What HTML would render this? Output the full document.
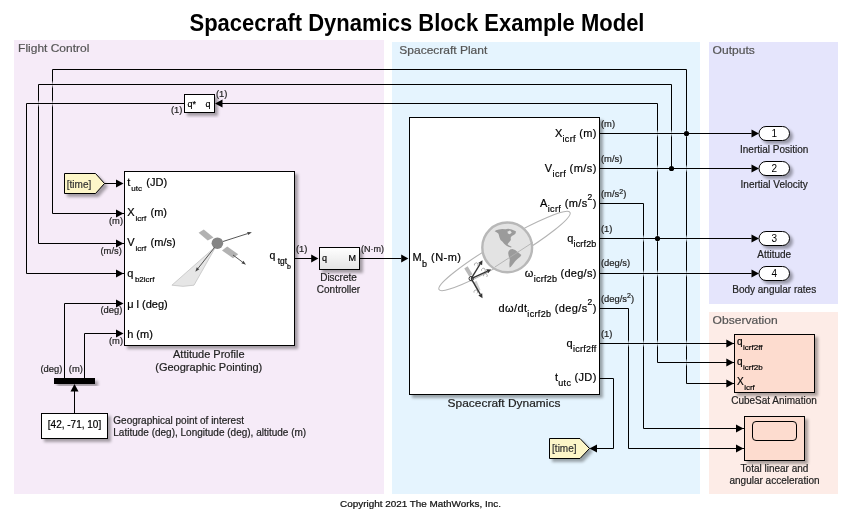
<!DOCTYPE html><html><head><meta charset="utf-8"><style>html,body{margin:0;padding:0;background:#fff;overflow:hidden;}svg{display:block;font-family:"Liberation Sans",sans-serif;} text{stroke-width:0.2px;}</style></head><body>
<div style="will-change:transform">
<svg width="853" height="515" viewBox="0 0 853 515">
<defs><filter id="sh" x="-20%" y="-20%" width="150%" height="150%"><feGaussianBlur in="SourceAlpha" stdDeviation="1.7"/><feOffset dx="2.6" dy="2.6" result="b"/><feComponentTransfer><feFuncA type="linear" slope="0.34"/></feComponentTransfer><feMerge><feMergeNode/><feMergeNode in="SourceGraphic"/></feMerge></filter><linearGradient id="gr" x1="0" y1="0" x2="0" y2="1"><stop offset="0" stop-color="#fff"/><stop offset="1" stop-color="#e4e4e4"/></linearGradient><linearGradient id="gpb" x1="0" y1="0" x2="0" y2="1"><stop offset="0" stop-color="#e5f4fe" stop-opacity="0"/><stop offset="0.5" stop-color="#e5f4fe" stop-opacity="1"/><stop offset="1" stop-color="#e5f4fe" stop-opacity="0"/></linearGradient><linearGradient id="gpp" x1="0" y1="0" x2="0" y2="1"><stop offset="0" stop-color="#f6ebf8" stop-opacity="0"/><stop offset="0.5" stop-color="#f6ebf8" stop-opacity="1"/><stop offset="1" stop-color="#f6ebf8" stop-opacity="0"/></linearGradient><clipPath id="gc"><circle cx="507.2" cy="247.4" r="26"/></clipPath></defs>
<rect x="14" y="40" width="370" height="454" fill="#f6ebf8"/>
<rect x="392" y="42" width="308" height="452" fill="#e5f4fe"/>
<rect x="709" y="42" width="129" height="262" fill="#e5e5fc"/>
<rect x="709" y="312" width="129" height="182" fill="#fdece7"/>
<text x="18.1" y="52.0" font-size="11" fill="#555" stroke="#555" textLength="71.2" lengthAdjust="spacingAndGlyphs" >Flight Control</text>
<text x="399.3" y="53.6" font-size="11" fill="#555" stroke="#555" textLength="88.0" lengthAdjust="spacingAndGlyphs" >Spacecraft Plant</text>
<text x="712.6" y="53.6" font-size="11" fill="#555" stroke="#555" textLength="42.2" lengthAdjust="spacingAndGlyphs" >Outputs</text>
<text x="712.6" y="323.6" font-size="11" fill="#555" stroke="#555" textLength="65.0" lengthAdjust="spacingAndGlyphs" >Observation</text>
<text x="189.5" y="30.8" font-size="23.4" stroke="#000" font-weight="bold" textLength="455" lengthAdjust="spacingAndGlyphs" style="stroke-width:0">Spacecraft Dynamics Block Example Model</text>
<text x="340" y="506.8" font-size="8.5" fill="#111" stroke="#111" textLength="161" lengthAdjust="spacingAndGlyphs" >Copyright 2021 The MathWorks, Inc.</text>
<path d="M600 133.5 L751.6 133.5" fill="none" stroke="#000" stroke-width="1"/>
<path d="M124 213.5 L52.5 213.5 L52.5 69.5 L686.5 69.5 L686.5 383.5 L734 383.5" fill="none" stroke="#000" stroke-width="1"/>
<path d="M600 168.5 L751.6 168.5" fill="none" stroke="#000" stroke-width="1"/>
<path d="M124 243.5 L38.5 243.5 L38.5 84.5 L671.5 84.5 L671.5 168.5" fill="none" stroke="#000" stroke-width="1"/>
<path d="M600 238.5 L751.6 238.5" fill="none" stroke="#000" stroke-width="1"/>
<path d="M222 103.5 L657.5 103.5 L657.5 362.5 L734 362.5" fill="none" stroke="#000" stroke-width="1"/>
<path d="M184.5 103.5 L26.5 103.5 L26.5 273.5 L124 273.5" fill="none" stroke="#000" stroke-width="1"/>
<path d="M600 273.5 L751.6 273.5" fill="none" stroke="#000" stroke-width="1"/>
<path d="M600 203.5 L643.5 203.5 L643.5 428.5 L744 428.5" fill="none" stroke="#000" stroke-width="1"/>
<path d="M600 308.5 L628.5 308.5 L628.5 448.5 L744 448.5" fill="none" stroke="#000" stroke-width="1"/>
<path d="M600 343.5 L734 343.5" fill="none" stroke="#000" stroke-width="1"/>
<path d="M600 378.5 L613.5 378.5 L613.5 448.5 L597 448.5" fill="none" stroke="#000" stroke-width="1"/>
<path d="M104 183.5 L117 183.5" fill="none" stroke="#000" stroke-width="1"/>
<path d="M74.5 413.5 L74.5 390" fill="none" stroke="#000" stroke-width="1"/>
<path d="M64.5 378 L64.5 303.5 L117 303.5" fill="none" stroke="#000" stroke-width="1"/>
<path d="M84.5 378 L84.5 333.5 L117 333.5" fill="none" stroke="#000" stroke-width="1"/>
<path d="M294.5 258.5 L312 258.5" fill="none" stroke="#000" stroke-width="1"/>
<path d="M359.5 258.5 L401 258.5" fill="none" stroke="#000" stroke-width="1"/>
<rect x="51.6" y="80.5" width="1.8" height="8" fill="url(#gpp)"/>
<path d="M49.5 84.5 L55.5 84.5" stroke="#000" stroke-width="1"/>
<rect x="51.6" y="99.5" width="1.8" height="8" fill="url(#gpp)"/>
<path d="M49.5 103.5 L55.5 103.5" stroke="#000" stroke-width="1"/>
<rect x="685.6" y="129.5" width="1.8" height="8" fill="url(#gpb)"/>
<path d="M683.5 133.5 L689.5 133.5" stroke="#000" stroke-width="1"/>
<rect x="685.6" y="164.5" width="1.8" height="8" fill="url(#gpb)"/>
<path d="M683.5 168.5 L689.5 168.5" stroke="#000" stroke-width="1"/>
<rect x="685.6" y="234.5" width="1.8" height="8" fill="url(#gpb)"/>
<path d="M683.5 238.5 L689.5 238.5" stroke="#000" stroke-width="1"/>
<rect x="685.6" y="358.5" width="1.8" height="8" fill="url(#gpb)"/>
<path d="M683.5 362.5 L689.5 362.5" stroke="#000" stroke-width="1"/>
<rect x="685.6" y="269.5" width="1.8" height="8" fill="url(#gpb)"/>
<path d="M683.5 273.5 L689.5 273.5" stroke="#000" stroke-width="1"/>
<rect x="685.6" y="339.5" width="1.8" height="8" fill="url(#gpb)"/>
<path d="M683.5 343.5 L689.5 343.5" stroke="#000" stroke-width="1"/>
<rect x="37.6" y="99.5" width="1.8" height="8" fill="url(#gpp)"/>
<path d="M35.5 103.5 L41.5 103.5" stroke="#000" stroke-width="1"/>
<rect x="670.6" y="129.5" width="1.8" height="8" fill="url(#gpb)"/>
<path d="M668.5 133.5 L674.5 133.5" stroke="#000" stroke-width="1"/>
<rect x="656.6" y="129.5" width="1.8" height="8" fill="url(#gpb)"/>
<path d="M654.5 133.5 L660.5 133.5" stroke="#000" stroke-width="1"/>
<rect x="656.6" y="164.5" width="1.8" height="8" fill="url(#gpb)"/>
<path d="M654.5 168.5 L660.5 168.5" stroke="#000" stroke-width="1"/>
<rect x="656.6" y="234.5" width="1.8" height="8" fill="url(#gpb)"/>
<path d="M654.5 238.5 L660.5 238.5" stroke="#000" stroke-width="1"/>
<rect x="656.6" y="269.5" width="1.8" height="8" fill="url(#gpb)"/>
<path d="M654.5 273.5 L660.5 273.5" stroke="#000" stroke-width="1"/>
<rect x="656.6" y="339.5" width="1.8" height="8" fill="url(#gpb)"/>
<path d="M654.5 343.5 L660.5 343.5" stroke="#000" stroke-width="1"/>
<rect x="642.6" y="234.5" width="1.8" height="8" fill="url(#gpb)"/>
<path d="M640.5 238.5 L646.5 238.5" stroke="#000" stroke-width="1"/>
<rect x="642.6" y="269.5" width="1.8" height="8" fill="url(#gpb)"/>
<path d="M640.5 273.5 L646.5 273.5" stroke="#000" stroke-width="1"/>
<rect x="642.6" y="339.5" width="1.8" height="8" fill="url(#gpb)"/>
<path d="M640.5 343.5 L646.5 343.5" stroke="#000" stroke-width="1"/>
<rect x="627.6" y="339.5" width="1.8" height="8" fill="url(#gpb)"/>
<path d="M625.5 343.5 L631.5 343.5" stroke="#000" stroke-width="1"/>
<path d="M123.5 183.5 L116.0 179.5 L116.0 187.5 Z" fill="#000"/>
<path d="M123.5 213.5 L116.0 209.5 L116.0 217.5 Z" fill="#000"/>
<path d="M123.5 243.5 L116.0 239.5 L116.0 247.5 Z" fill="#000"/>
<path d="M123.5 273.5 L116.0 269.5 L116.0 277.5 Z" fill="#000"/>
<path d="M123.5 303.5 L116.0 299.5 L116.0 307.5 Z" fill="#000"/>
<path d="M123.5 333.5 L116.0 329.5 L116.0 337.5 Z" fill="#000"/>
<path d="M318.4 258.5 L311.2 254.6 L311.2 262.4 Z" fill="#000"/>
<path d="M408.4 258.5 L401.2 254.6 L401.2 262.4 Z" fill="#000"/>
<path d="M759 133.5 L751.5 129.5 L751.5 137.5 Z" fill="#000"/>
<path d="M759 168.5 L751.5 164.5 L751.5 172.5 Z" fill="#000"/>
<path d="M759 238.5 L751.5 234.5 L751.5 242.5 Z" fill="#000"/>
<path d="M759 273.5 L751.5 269.5 L751.5 277.5 Z" fill="#000"/>
<path d="M215 103.5 L222.5 99.5 L222.5 107.5 Z" fill="#000"/>
<path d="M733.8 343.5 L726.3 339.5 L726.3 347.5 Z" fill="#000"/>
<path d="M733.8 362.5 L726.3 358.5 L726.3 366.5 Z" fill="#000"/>
<path d="M733.8 383.5 L726.3 379.5 L726.3 387.5 Z" fill="#000"/>
<path d="M743.5 428.5 L736.0 424.5 L736.0 432.5 Z" fill="#000"/>
<path d="M743.5 448.5 L736.0 444.5 L736.0 452.5 Z" fill="#000"/>
<path d="M589.5 448.5 L597.0 444.5 L597.0 452.5 Z" fill="#000"/>
<path d="M74.5 384 L70.5 391.5 L78.5 391.5 Z" fill="#000"/>
<circle cx="686.5" cy="133.5" r="2.6" fill="#000"/>
<circle cx="671.5" cy="168.5" r="2.6" fill="#000"/>
<circle cx="657.5" cy="238.5" r="2.6" fill="#000"/>
<rect x="124.5" y="171.5" width="170" height="174" fill="#fff" stroke="#000" filter="url(#sh)"/>
<rect x="184.5" y="94.5" width="30" height="18" fill="#fff" stroke="#000" filter="url(#sh)"/>
<text x="187.5" y="106.5" font-size="9" stroke="#000" >q*</text>
<text x="205.5" y="106.5" font-size="9" stroke="#000" >q</text>
<rect x="319.5" y="247.5" width="40" height="22" fill="url(#gr)" stroke="#000" filter="url(#sh)"/>
<text x="322" y="261" font-size="9" stroke="#000" >q</text>
<text x="348.5" y="261" font-size="9" stroke="#000" >M</text>
<rect x="409.5" y="117.5" width="190" height="277" fill="#fff" stroke="#000" filter="url(#sh)"/>
<rect x="41.5" y="413.5" width="66" height="25" fill="#fff" stroke="#000" filter="url(#sh)"/>
<text x="74.5" y="428.2" font-size="10" text-anchor="middle" stroke="#000" >[42, -71, 10]</text>
<rect x="54" y="378" width="41" height="6" fill="#000" filter="url(#sh)"/>
<path d="M64.5 173.5 L95.5 173.5 L104.5 183.5 L95.5 193.5 L64.5 193.5 Z" fill="#fdf6c8" stroke="#000" filter="url(#sh)"/>
<text x="66.8" y="187.6" font-size="10" fill="#333" stroke="#333" >[time]</text>
<path d="M549.5 438.5 L580 438.5 L589.5 448.5 L580 458.5 L549.5 458.5 Z" fill="#fdf6c8" stroke="#000" filter="url(#sh)"/>
<text x="552.1" y="452.3" font-size="10" fill="#333" stroke="#333" >[time]</text>
<rect x="759" y="126.5" width="30.5" height="14" rx="7" ry="7" fill="#fff" stroke="#000" filter="url(#sh)"/>
<text x="774.4" y="137.1" font-size="10" text-anchor="middle" stroke="#000" style="stroke-width:0">1</text>
<text x="774.2" y="152.5" font-size="10" text-anchor="middle" fill="#222" stroke="#222" >Inertial Position</text>
<rect x="759" y="161.5" width="30.5" height="14" rx="7" ry="7" fill="#fff" stroke="#000" filter="url(#sh)"/>
<text x="774.4" y="172.1" font-size="10" text-anchor="middle" stroke="#000" style="stroke-width:0">2</text>
<text x="774.2" y="187.5" font-size="10" text-anchor="middle" fill="#222" stroke="#222" >Inertial Velocity</text>
<rect x="759" y="231.5" width="30.5" height="14" rx="7" ry="7" fill="#fff" stroke="#000" filter="url(#sh)"/>
<text x="774.4" y="242.1" font-size="10" text-anchor="middle" stroke="#000" style="stroke-width:0">3</text>
<text x="774.2" y="257.5" font-size="10" text-anchor="middle" fill="#222" stroke="#222" >Attitude</text>
<rect x="759" y="266.5" width="30.5" height="14" rx="7" ry="7" fill="#fff" stroke="#000" filter="url(#sh)"/>
<text x="774.4" y="277.1" font-size="10" text-anchor="middle" stroke="#000" style="stroke-width:0">4</text>
<text x="774.2" y="292.5" font-size="10" text-anchor="middle" fill="#222" stroke="#222" >Body angular rates</text>
<rect x="734.5" y="334.5" width="80" height="58" fill="#fddccf" stroke="#000" filter="url(#sh)"/>
<rect x="744.5" y="416.5" width="60" height="44" fill="#fddccf" stroke="#000" filter="url(#sh)"/>
<rect x="752.5" y="421.5" width="44" height="19" rx="3.5" fill="none" stroke="#000" stroke-width="1"/>
<path d="M213.5 248.4 L171.9 285.2 Q183 287.5 194 285.2 L214.8 248.4 Z" fill="#e6e6e6" stroke="#bdbdbd" stroke-width="0.7"/>
<path d="M198.6 232.8 L203.8 229.6 L213.5 237.4 L207.7 240.6 Z" fill="#b2b2b2"/>
<path d="M222 250.4 L227.2 246.5 L238.2 254.3 L233 258.2 Z" fill="#b2b2b2"/>
<circle cx="217.4" cy="243.2" r="5.8" fill="#858585"/>
<path d="M223.0 241.5 L247.6 233.6" stroke="#444" stroke-width="0.9" fill="none"/>
<path d="M251.9 232.2 L248.1 235.1 L247.1 232.1 Z" fill="#444"/>
<path d="M233.0 255.0 L242.4 262.0" stroke="#444" stroke-width="0.9" fill="none"/>
<path d="M246.0 264.7 L241.4 263.3 L243.4 260.7 Z" fill="#444"/>
<path d="M214.5 247.5 L198.1 268.3" stroke="#444" stroke-width="0.9" fill="none"/>
<path d="M195.3 271.8 L196.8 267.3 L199.3 269.3 Z" fill="#444"/>
<ellipse cx="504.5" cy="251" rx="76" ry="10.3" transform="rotate(-30.5 504.5 251)" fill="none" stroke="#b3b3b3" stroke-width="1.1"/>
<circle cx="507.2" cy="247.4" r="24.9" fill="#e3e3e3" stroke="#b8b8b8" stroke-width="2.4"/>
<path d="M494.67 231.29 L496.02 230.16 L498.83 229.49 L502.21 229.04 L505.59 229.26 L508.18 228.81 L511.78 229.49 L514.04 230.39 L516.06 231.51 L515.39 233.77 L513.81 234.89 L511.78 236.02 L510.66 237.71 L510.88 239.96 L509.53 241.65 L508.41 243.00 L507.50 244.13 L508.97 245.59 L510.66 246.15 L511.78 247.05 L510.88 247.50 L508.41 246.72 L506.15 245.59 L504.13 243.68 L502.55 241.87 L500.52 239.96 L499.40 237.14 L498.50 233.77 L496.92 232.41 Z" fill="#9b9b9b"/>
<path d="M508.63 251.22 L510.09 249.53 L512.35 248.97 L515.16 250.09 L517.98 252.35 L521.36 254.94 L520.23 256.85 L517.41 259.10 L515.16 261.36 L512.91 264.17 L510.66 266.99 L509.53 267.55 L509.31 264.17 L509.76 259.67 L508.63 255.73 L508.18 252.91 Z" fill="#9b9b9b"/>
<path d="M507.50 231.51 L510.09 230.61 L511.78 232.41 L509.76 234.33 L507.84 233.54 Z" fill="#e3e3e3"/>
<g clip-path="url(#gc)"><path d="M494.9 267 L533.2 242.2" stroke="#b0b0b0" stroke-width="0.9"/></g>
<path d="M464.3 268.5 L467.6 266.3 L472.5 274.3 L469.2 276.5 Z" fill="#b9b9b9"/>
<path d="M473.5 282.5 L476.5 280.8 L480.5 290 L477.5 291.8 Z" fill="#d0d0d0"/>
<circle cx="471.2" cy="278.6" r="2.2" fill="#fff" stroke="#333" stroke-width="1"/>
<path d="M471.2 278.6 L480.1 264.0" stroke="#333" stroke-width="1.4" fill="none"/>
<path d="M482.5 260.2 L482.1 265.2 L478.2 262.9 Z" fill="#333"/>
<path d="M471.2 278.6 L487.1 271.3" stroke="#333" stroke-width="1.4" fill="none"/>
<path d="M491.2 269.4 L488.1 273.3 L486.2 269.2 Z" fill="#333"/>
<path d="M471.2 278.6 L480.3 294.3" stroke="#333" stroke-width="1.4" fill="none"/>
<path d="M482.5 298.2 L478.3 295.4 L482.2 293.2 Z" fill="#333"/>
<path d="M474.5 265.40000000000003 A1.9 1.9 0 1 1 477.5 266.2" fill="none" stroke="#777" stroke-width="0.6"/>
<path d="M481.59999999999997 270.8 A1.9 1.9 0 1 1 484.59999999999997 271.59999999999997" fill="none" stroke="#777" stroke-width="0.6"/>
<path d="M483.59999999999997 276.20000000000005 A1.9 1.9 0 1 1 486.59999999999997 277.0" fill="none" stroke="#777" stroke-width="0.6"/>
<path d="M474.0 292.6 A1.9 1.9 0 1 1 477.0 293.4" fill="none" stroke="#777" stroke-width="0.6"/>
<text x="208.8" y="358.1" font-size="11" text-anchor="middle" fill="#222" stroke="#222" >Attitude Profile</text>
<text x="208.8" y="371.0" font-size="11" text-anchor="middle" fill="#222" stroke="#222" >(Geographic Pointing)</text>
<text x="338.5" y="281" font-size="10" text-anchor="middle" fill="#222" stroke="#222" >Discrete</text>
<text x="338.5" y="292.7" font-size="10" text-anchor="middle" fill="#222" stroke="#222" >Controller</text>
<text x="504" y="407.4" font-size="11.4" text-anchor="middle" fill="#222" stroke="#222" textLength="112.8" lengthAdjust="spacingAndGlyphs" >Spacecraft Dynamics</text>
<text x="774" y="404.2" font-size="10" text-anchor="middle" fill="#222" stroke="#222" >CubeSat Animation</text>
<text x="774.5" y="472.2" font-size="10" text-anchor="middle" fill="#222" stroke="#222" >Total linear and</text>
<text x="774.5" y="484.3" font-size="10" text-anchor="middle" fill="#222" stroke="#222" >angular acceleration</text>
<text x="113.3" y="423.8" font-size="10" fill="#222" stroke="#222" >Geographical point of interest</text>
<text x="113.3" y="435.5" font-size="10" fill="#222" stroke="#222" >Latitude (deg), Longitude (deg), altitude (m)</text>
<text x="127.2" y="186.3" stroke="#000"><tspan font-size="11">t</tspan><tspan font-size="8" dy="4.30" dx="1.0">utc</tspan><tspan font-size="11" dy="-4.30" dx="1.3"> (JD)</tspan></text>
<text x="127.2" y="216.3" stroke="#000"><tspan font-size="11">X</tspan><tspan font-size="8" dy="4.30" dx="0.9">icrf</tspan><tspan font-size="11" dy="-4.30" dx="1.3"> (m)</tspan></text>
<text x="127.2" y="246.3" stroke="#000"><tspan font-size="11">V</tspan><tspan font-size="8" dy="4.30" dx="0.9">icrf</tspan><tspan font-size="11" dy="-4.30" dx="1.4"> (m/s)</tspan></text>
<text x="127.2" y="276.6" stroke="#000"><tspan font-size="11">q</tspan><tspan font-size="8" dy="5.00" dx="1.6">b2icrf</tspan></text>
<text x="127.2" y="308.0" stroke="#000"><tspan font-size="11">μ l (deg)</tspan></text>
<text x="127.2" y="337.8" stroke="#000"><tspan font-size="11">h (m)</tspan></text>
<text x="269.6" y="259.1" stroke="#000"><tspan font-size="10.5">q</tspan><tspan font-size="8.4" dy="4.90"> tgt</tspan><tspan font-size="7" dy="4.70">b</tspan></text>
<text x="596.3" y="136.5" text-anchor="end" stroke="#000" textLength="41.4"><tspan font-size="11">X</tspan><tspan font-size="9" dy="5.30">icrf</tspan><tspan font-size="11" dy="-5.30"> (m)</tspan></text>
<text x="596.3" y="171.5" text-anchor="end" stroke="#000" textLength="51.5"><tspan font-size="11">V</tspan><tspan font-size="9" dy="5.30">icrf</tspan><tspan font-size="11" dy="-5.30"> (m/s)</tspan></text>
<text x="596.3" y="206.8" text-anchor="end" stroke="#000" textLength="56.3"><tspan font-size="11">A</tspan><tspan font-size="9" dy="5.30">icrf</tspan><tspan font-size="11" dy="-5.30"> (m/s</tspan><tspan font-size="8.5" dy="-6.50">2</tspan><tspan font-size="11" dy="6.50">)</tspan></text>
<text x="596.3" y="241.5" text-anchor="end" stroke="#000" textLength="29"><tspan font-size="11">q</tspan><tspan font-size="9" dy="5.30">icrf2b</tspan></text>
<text x="596.3" y="276.5" text-anchor="end" stroke="#000" textLength="71.5"><tspan font-size="11">ω</tspan><tspan font-size="9" dy="5.30">icrf2b</tspan><tspan font-size="11" dy="-5.30"> (deg/s)</tspan></text>
<text x="596.3" y="311.8" text-anchor="end" stroke="#000" textLength="97.7"><tspan font-size="11">dω/dt</tspan><tspan font-size="9" dy="5.30">icrf2b</tspan><tspan font-size="11" dy="-5.30"> (deg/s</tspan><tspan font-size="8.5" dy="-6.50">2</tspan><tspan font-size="11" dy="6.50">)</tspan></text>
<text x="596.3" y="346.5" text-anchor="end" stroke="#000" textLength="29.8"><tspan font-size="11">q</tspan><tspan font-size="9" dy="5.30">icrf2ff</tspan></text>
<text x="596.3" y="380.8" text-anchor="end" stroke="#000" textLength="41.4"><tspan font-size="11">t</tspan><tspan font-size="9" dy="5.30">utc</tspan><tspan font-size="11" dy="-5.30"> (JD)</tspan></text>
<text x="412.5" y="261.0" stroke="#000" textLength="48.4"><tspan font-size="11">M</tspan><tspan font-size="9" dy="6.20">b</tspan><tspan font-size="11" dy="-6.20"> (N-m)</tspan></text>
<text x="737.0" y="344.8" stroke="#000"><tspan font-size="10">q</tspan><tspan font-size="8" dy="5.20" dx="0.5">icrf2ff</tspan></text>
<text x="737.0" y="364.8" stroke="#000"><tspan font-size="10">q</tspan><tspan font-size="8" dy="5.20" dx="0.5">icrf2b</tspan></text>
<text x="737.0" y="384.6" stroke="#000"><tspan font-size="10">X</tspan><tspan font-size="8" dy="5.00" dx="0.5">icrf</tspan></text>
<text x="171" y="113" fill="#222" stroke="#222"><tspan font-size="9.4">(1)</tspan></text>
<text x="216" y="96.8" fill="#222" stroke="#222"><tspan font-size="9.4">(1)</tspan></text>
<text x="109" y="223.5" fill="#222" stroke="#222"><tspan font-size="9.4">(m)</tspan></text>
<text x="100.5" y="253.5" fill="#222" stroke="#222"><tspan font-size="9.4">(m/s)</tspan></text>
<text x="100.5" y="313" fill="#222" stroke="#222"><tspan font-size="9.4">(deg)</tspan></text>
<text x="109" y="343.5" fill="#222" stroke="#222"><tspan font-size="9.4">(m)</tspan></text>
<text x="40.5" y="372" fill="#222" stroke="#222"><tspan font-size="9.4">(deg)</tspan></text>
<text x="68.8" y="372" fill="#222" stroke="#222"><tspan font-size="9.4">(m)</tspan></text>
<text x="296" y="252.0" fill="#222" stroke="#222"><tspan font-size="9.4">(1)</tspan></text>
<text x="361" y="251.8" fill="#222" stroke="#222"><tspan font-size="9">(N·m)</tspan></text>
<text x="601" y="126.8" fill="#222" stroke="#222"><tspan font-size="9.4">(m)</tspan></text>
<text x="601" y="161.8" fill="#222" stroke="#222"><tspan font-size="9.4">(m/s)</tspan></text>
<text x="601" y="197" fill="#222" stroke="#222"><tspan font-size="9.4">(m/s</tspan><tspan font-size="7" dy="-3.50">2</tspan><tspan font-size="9.4" dy="3.50">)</tspan></text>
<text x="601" y="232" fill="#222" stroke="#222"><tspan font-size="9.4">(1)</tspan></text>
<text x="601" y="266" fill="#222" stroke="#222"><tspan font-size="9.4">(deg/s)</tspan></text>
<text x="601" y="301.5" fill="#222" stroke="#222"><tspan font-size="9.4">(deg/s</tspan><tspan font-size="7" dy="-3.50">2</tspan><tspan font-size="9.4" dy="3.50">)</tspan></text>
<text x="601" y="336.5" fill="#222" stroke="#222"><tspan font-size="9.4">(1)</tspan></text>
</svg></div></body></html>
